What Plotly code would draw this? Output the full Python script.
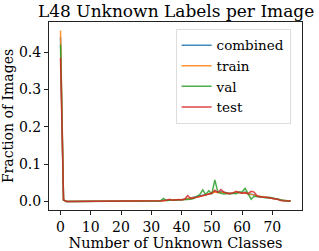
import plotly.graph_objects as go

x_vals = list(range(0, 77))

combined = [0.440, 0.004] + [0.0] * 28 + [
    0.001, 0.001, 0.001, 0.002, 0.003, 0.003, 0.004, 0.004, 0.004, 0.005,  # 30-39
    0.005, 0.006, 0.008, 0.008, 0.010, 0.012, 0.014, 0.017, 0.018, 0.020,  # 40-49
    0.022, 0.027, 0.025, 0.026, 0.024, 0.023, 0.022, 0.023, 0.024, 0.025,  # 50-59
    0.023, 0.025, 0.020, 0.019, 0.018, 0.014, 0.013, 0.012, 0.011, 0.010,  # 60-69
    0.009, 0.007, 0.006, 0.003, 0.002, 0.002, 0.001]                       # 70-76

train = [0.458, 0.004] + [0.0] * 28 + [
    0.001, 0.001, 0.001, 0.002, 0.002, 0.003, 0.003, 0.004, 0.004, 0.005,
    0.005, 0.006, 0.007, 0.008, 0.010, 0.011, 0.013, 0.015, 0.017, 0.019,
    0.021, 0.025, 0.024, 0.025, 0.024, 0.022, 0.022, 0.024, 0.023, 0.025,
    0.022, 0.024, 0.020, 0.019, 0.017, 0.015, 0.012, 0.012, 0.011, 0.010,
    0.009, 0.007, 0.005, 0.003, 0.002, 0.001, 0.001]

val = [0.420, 0.003] + [0.0] * 28 + [
    0.001, 0.000, 0.001, 0.001, 0.008, 0.002, 0.003, 0.002, 0.003, 0.004,
    0.004, 0.005, 0.006, 0.006, 0.008, 0.012, 0.018, 0.031, 0.018, 0.029,
    0.020, 0.058, 0.025, 0.022, 0.020, 0.021, 0.020, 0.022, 0.021, 0.024,
    0.026, 0.035, 0.022, 0.006, 0.014, 0.013, 0.012, 0.011, 0.010, 0.011,
    0.009, 0.008, 0.005, 0.003, 0.002, 0.001, 0.001]

test = [0.385, 0.004] + [0.0] * 28 + [
    0.001, 0.001, 0.002, 0.002, 0.002, 0.003, 0.006, 0.003, 0.004, 0.005,
    0.004, 0.006, 0.016, 0.008, 0.009, 0.011, 0.013, 0.015, 0.017, 0.019,
    0.022, 0.030, 0.024, 0.032, 0.025, 0.022, 0.021, 0.023, 0.027, 0.024,
    0.022, 0.023, 0.021, 0.027, 0.025, 0.014, 0.012, 0.011, 0.011, 0.010,
    0.009, 0.007, 0.005, 0.002, 0.001, 0.001, 0.001]

series = [("combined", combined, "#1f77b4"),
          ("train", train, "#ff7f0e"),
          ("val", val, "#2ca02c"),
          ("test", test, "#d62728")]

font_family = "DejaVu Serif"

fig = go.Figure()
for name, ys, color in series:
    fig.add_trace(go.Scatter(x=x_vals, y=ys, mode="lines", name=name,
                             line=dict(color=color, width=1.5), opacity=0.85))

axis_common = dict(showline=True, linecolor="#222", linewidth=1, mirror=True,
                   ticks="outside", ticklen=4, tickcolor="#222", showgrid=False,
                   zeroline=False, automargin=False,
                   tickfont=dict(family=font_family, size=14, color="black"))

fig.update_layout(
    width=319, height=251,
    margin=dict(l=49, r=17, t=22, b=41),
    paper_bgcolor="white", plot_bgcolor="white",
    font=dict(family=font_family, color="black"),
    legend=dict(x=0.955, y=0.963, xanchor="right", yanchor="top",
                bordercolor="#ddd", borderwidth=1, bgcolor="rgba(255,255,255,0.8)",
                font=dict(family=font_family, size=13.5, color="black"),
                tracegroupgap=0, itemwidth=30),
    showlegend=True,
    annotations=[dict(text="L48 Unknown Labels per Image", x=0.5, xref="paper",
                      xanchor="center", y=1.0, yref="paper", yanchor="bottom", yshift=-1,
                      showarrow=False,
                      font=dict(family=font_family, size=17, color="black"))],
)
fig.update_xaxes(range=[-3.8, 79.8], tickvals=[0, 10, 20, 30, 40, 50, 60, 70],
                 title=dict(text="Number of Unknown Classes", standoff=0,
                            font=dict(family=font_family, size=14.5, color="black")),
                 **axis_common)
fig.update_yaxes(range=[-0.0229, 0.481], tickvals=[0, 0.1, 0.2, 0.3, 0.4], tickformat=".1f",
                 title=dict(text="Fraction of Images", standoff=2,
                            font=dict(family=font_family, size=14, color="black")),
                 **axis_common)

fig.write_html("out.html", config={"displayModeBar": False},
               post_script="document.body.style.margin='0';document.body.style.overflow='hidden';")
